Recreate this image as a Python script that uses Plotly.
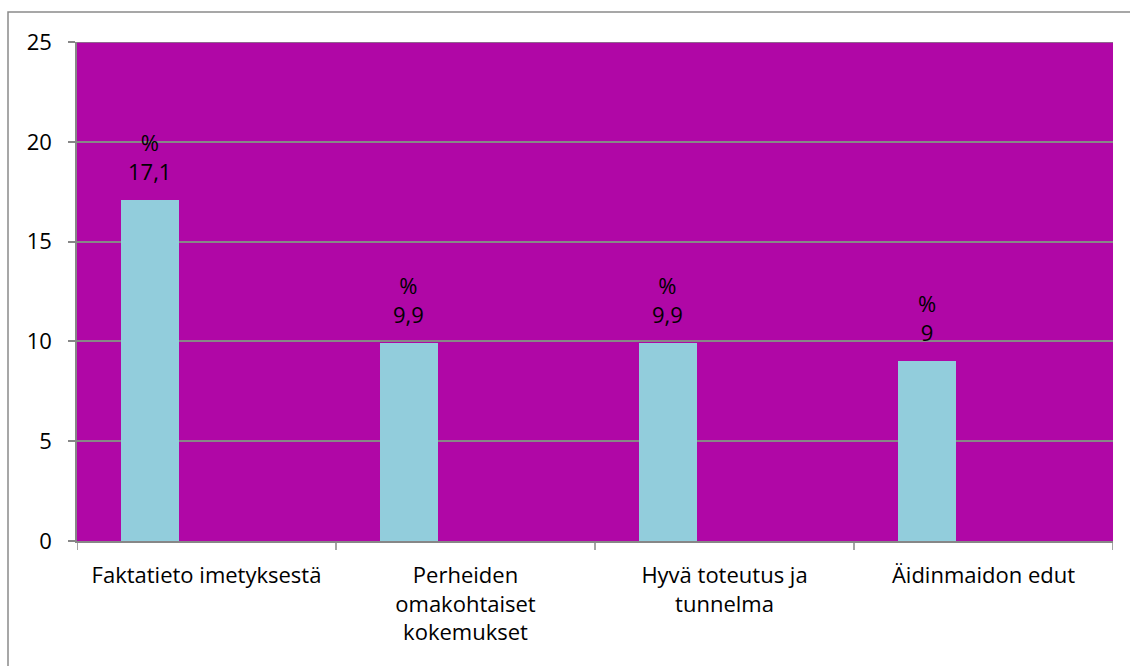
import plotly.graph_objects as go

categories = ["Faktatieto imetyksestä", "Perheiden<br>omakohtaiset<br>kokemukset",
              "Hyvä toteutus ja<br>tunnelma", "Äidinmaidon edut"]
values = [17.1, 9.9, 9.9, 9.0]
value_labels = ["17,1", "9,9", "9,9", "9"]
y_ticks = [0, 5, 10, 15, 20, 25]

BAR_W = 0.222
BAR_OFF = -0.33
FONT = "Open Sans"
FS = 22
GRID = "#878787"

W, H = 1130, 666
ML, MR, MT, MB = 77, 17, 42, 125

fig = go.Figure()
fig.add_trace(go.Bar(
    x=list(range(len(categories))), y=values,
    width=BAR_W, offset=BAR_OFF,
    marker=dict(color="#92CDDC", line=dict(width=0)),
    hoverinfo="skip",
))

for i, (v, lab) in enumerate(zip(values, value_labels)):
    fig.add_annotation(
        x=i + BAR_OFF + BAR_W / 2, y=v, xref="x", yref="y",
        text="%<br>" + lab, showarrow=False,
        yanchor="bottom", yshift=12,
        font=dict(family=FONT, size=FS, color="#000000"),
    )

pw = W - ML - MR
ph = H - MT - MB
fig.add_shape(type="rect", xref="paper", yref="paper",
              x0=(8 - ML) / pw, x1=(1140 - ML) / pw,
              y0=-(H + 20 - MT - ph) / ph, y1=(H - 12 - MB) / ph,
              line=dict(color="#8A8A8A", width=1.5), fillcolor="rgba(0,0,0,0)",
              layer="below")

fig.update_layout(
    width=W, height=H,
    margin=dict(l=ML, r=MR, t=MT, b=MB),
    paper_bgcolor="white",
    plot_bgcolor="#B007A6",
    showlegend=False,
    bargap=0,
    font=dict(family=FONT, size=FS, color="#000000"),
    xaxis=dict(
        tickmode="array",
        tickvals=list(range(len(categories))),
        ticktext=categories,
        range=[-0.5, len(categories) - 0.5],
        showgrid=False, zeroline=False,
        showline=True, linecolor=GRID, linewidth=1.5,
        ticks="outside", ticklen=0, tickcolor="rgba(0,0,0,0)",
        ticklabelstandoff=14,
        tickfont=dict(family=FONT, size=FS),
        fixedrange=True,
    ),
    yaxis=dict(
        range=[0, 25],
        tickvals=y_ticks,
        showgrid=True, gridcolor=GRID, gridwidth=1.5,
        zeroline=False,
        showline=True, linecolor=GRID, linewidth=1.5,
        ticks="outside", ticklen=7, tickcolor=GRID, tickwidth=1.5,
        ticklabelstandoff=12,
        tickfont=dict(family=FONT, size=FS),
        fixedrange=True,
    ),
)

# top grid line at the maximum of the value axis
fig.add_shape(type="line", xref="paper", yref="y",
              x0=0, x1=1, y0=y_ticks[-1], y1=y_ticks[-1],
              line=dict(color=GRID, width=1.5))

# category boundary tick marks on x axis
for b in range(len(categories) + 1):
    fig.add_shape(type="line", xref="x", yref="paper",
                  x0=b - 0.5, x1=b - 0.5, y0=0, y1=-9 / ph,
                  line=dict(color=GRID, width=1.5))

fig.write_html("out.html")
